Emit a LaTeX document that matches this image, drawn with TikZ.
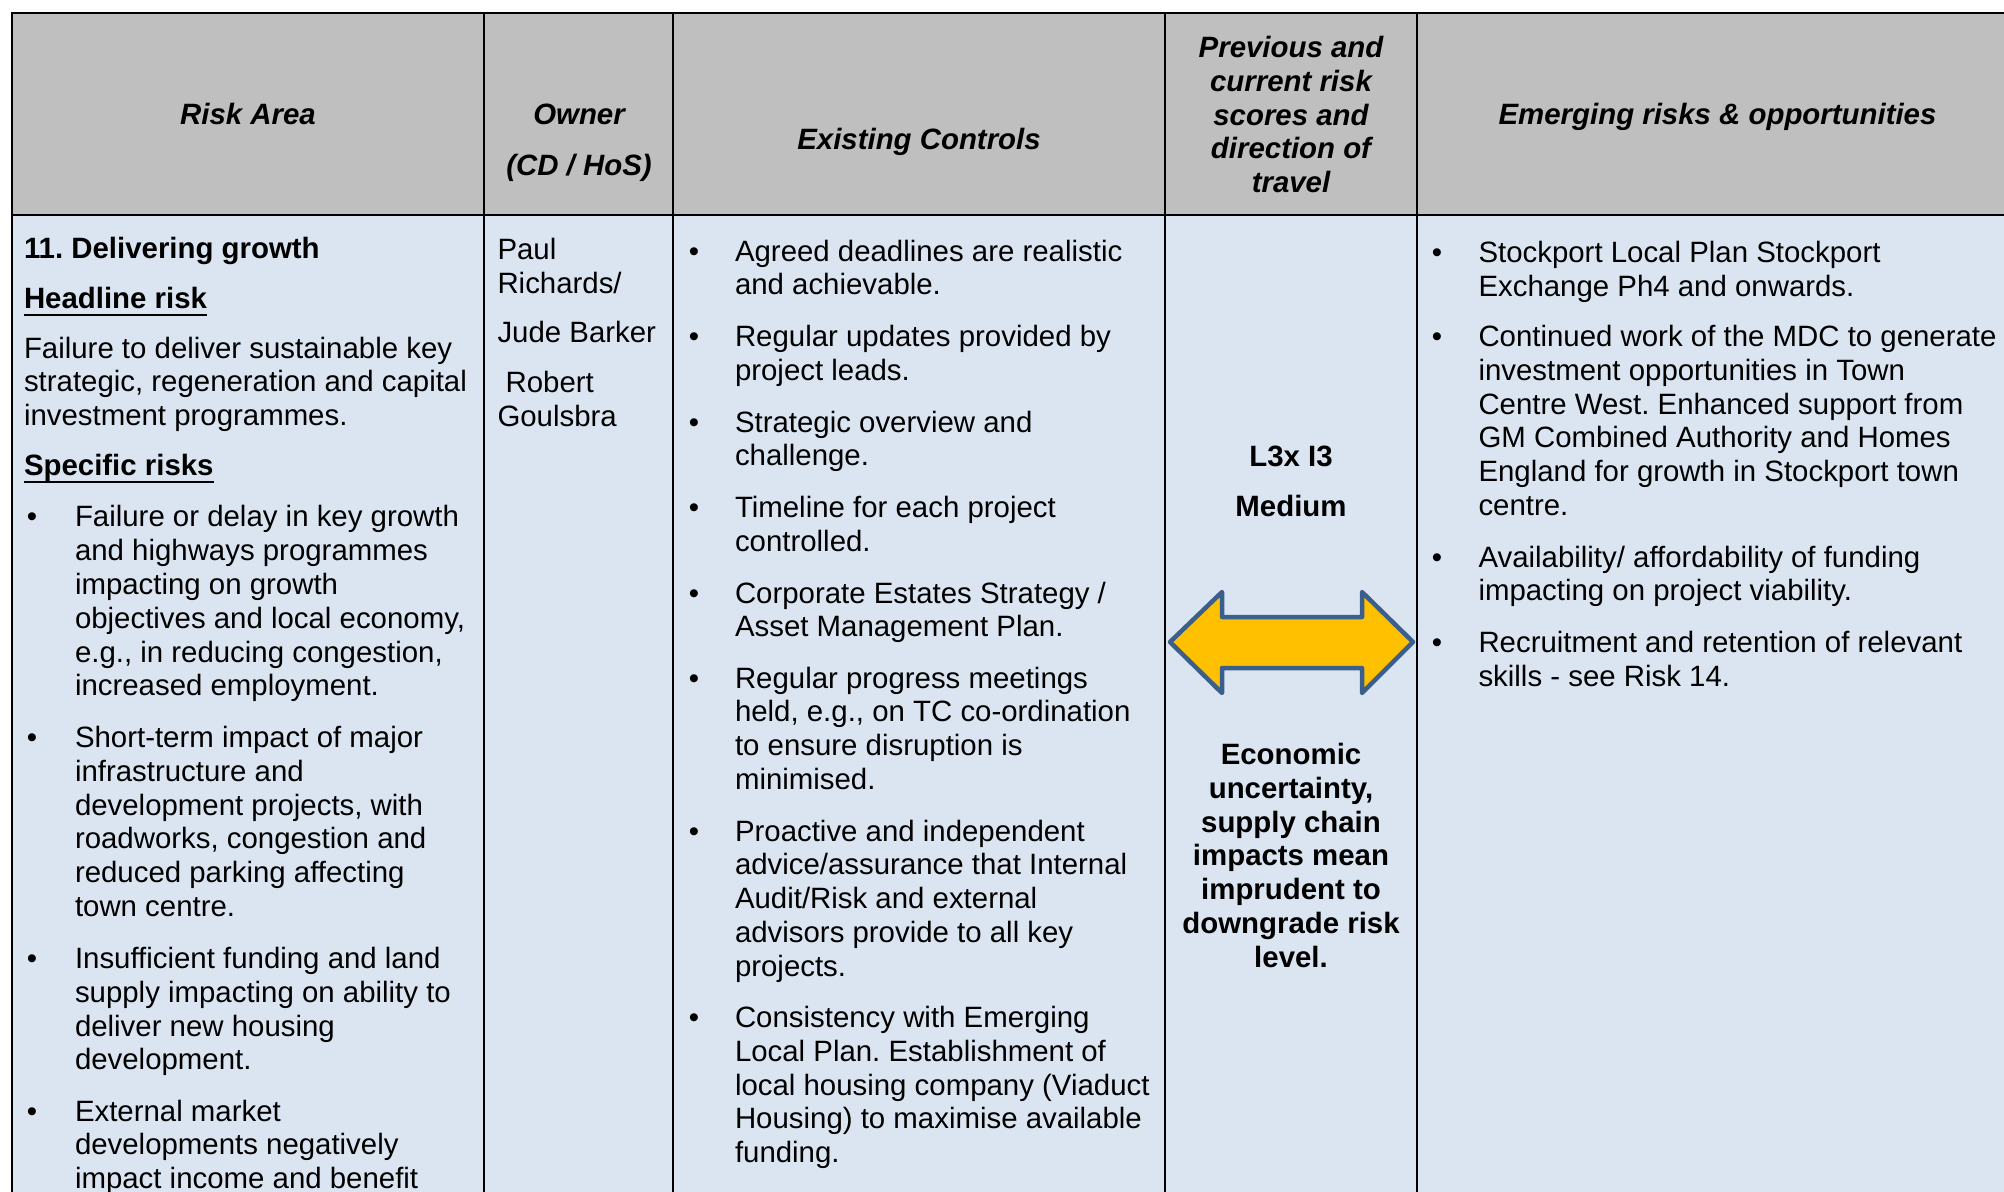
\documentclass[tikz,border=0pt]{standalone}
\usepackage{fontspec}
\setmainfont{Liberation Sans}
\frenchspacing
\newcommand\rkbody{\fontsize{29.4}{33.8}\selectfont}
\newcommand\rkbold{\fontsize{29.4}{33.8}\selectfont\bfseries}
\newcommand\rkhead{\fontsize{29.4}{33.6}\selectfont\bfseries\itshape}
\newcommand\rkL[1]{\begin{tabular}[t]{@{}l@{}}#1\end{tabular}}
\newcommand\rkC[1]{\begin{tabular}[t]{@{}c@{}}#1\end{tabular}}
\definecolor{hdrgray}{HTML}{BFBFBF}
\definecolor{bodyblue}{HTML}{DBE5F1}
\definecolor{arrowfill}{HTML}{FFC000}
\definecolor{arrowline}{HTML}{3A5F8C}
\tikzset{
  grid/.style={line width=2pt, black},
  txt/.style={anchor=base west, inner sep=0pt, outer sep=0pt, font=\rkbody},
  btxt/.style={txt, font=\rkbold},
  bul/.style={anchor=base, inner sep=0pt, outer sep=0pt, font=\rkbody},
  hdr/.style={anchor=base, inner sep=0pt, outer sep=0pt, font=\rkhead},
  ctr/.style={anchor=base, inner sep=0pt, outer sep=0pt, font=\rkbold},
  uline/.style={line width=2.5pt, black},
}
\begin{document}
\begin{tikzpicture}[x=1pt, y=-1pt]
\useasboundingbox (0,0) rectangle (2004,1191);
\clip (0,0) rectangle (2004,1191);
% table background
\fill[white] (0,0) rectangle (2004,1191);
\fill[hdrgray] (11.5,13) rectangle (2018,214.5);
\fill[bodyblue] (11.5,214.5) rectangle (2018,1260);
% grid
\draw[grid] (11.5,1260) -- (11.5,13) -- (2018,13) -- (2018,1260);
\draw[grid] (11.5,214.5) -- (2018,214.5);
\foreach \cx in {484,673,1165,1417} {\draw[grid] (\cx,13) -- (\cx,1260);}

\begin{scope}[yshift=-1.5pt]
% header
\node[hdr] (hRisk) at (248,122.7) {Risk Area};
\node[hdr] (hOwner) at (579,122.7) {Owner};
\node[hdr] (hCD) at (579,173.5) {(CD / HoS)};
\node[hdr] (hCtrl) at (919,148.3) {Existing Controls};
\node[hdr] (hPrev) at (1291,56.3) {\rkC{Previous and\\current risk\\scores and\\direction of\\travel}};
\node[hdr] (hEmer) at (1717.5,122.7) {Emerging risks \& opportunities};

% column 1
\node[btxt] (c1title) at (24,257) {11. Delivering growth};
\node[btxt] (c1head) at (24,307) {Headline risk};
\draw[uline] ([yshift=-6.5]c1head.base west) -- ([yshift=-6.5]c1head.base east);
\node[txt] (c1para) at (24,356.5) {\rkL{Failure to deliver sustainable key\\strategic, regeneration and capital\\investment programmes.}};
\node[btxt] (c1spec) at (24,474.2) {Specific risks};
\draw[uline] ([yshift=-6.5]c1spec.base west) -- ([yshift=-6.5]c1spec.base east);

\node[bul] (c1b1) at (32,525.3) {•};
\node[txt] (c1i1) at (75,525.3) {\rkL{Failure or delay in key growth\\and highways programmes\\impacting on growth\\objectives and local economy,\\e.g., in reducing congestion,\\increased employment.}};
\node[bul] (c1b2) at (32,746) {•};
\node[txt] (c1i2) at (75,746) {\rkL{Short-term impact of major\\infrastructure and\\development projects, with\\roadworks, congestion and\\reduced parking affecting\\town centre.}};
\node[bul] (c1b3) at (32,967) {•};
\node[txt] (c1i3) at (75,967) {\rkL{Insufficient funding and land\\supply impacting on ability to\\deliver new housing\\development.}};
\node[bul] (c1b4) at (32,1119.5) {•};
\node[txt] (c1i4) at (75,1119.5) {\rkL{External market\\developments negatively\\impact income and benefit}};

% column 2
\node[txt] (c2a) at (497.5,258) {\rkL{Paul\\Richards/}};
\node[txt] (c2b) at (497.5,341) {Jude Barker};
\node[txt] (c2c) at (497.5,391) {\rkL{\ Robert\\Goulsbra}};

% column 3
\node[bul] (c3b1) at (694,259.5) {•};
\node[txt] (c3i1) at (735,259.5) {\rkL{Agreed deadlines are realistic\\and achievable.}};
\node[bul] (c3b2) at (694,345) {•};
\node[txt] (c3i2) at (735,345) {\rkL{Regular updates provided by\\project leads.}};
\node[bul] (c3b3) at (694,430.5) {•};
\node[txt] (c3i3) at (735,430.5) {\rkL{Strategic overview and\\challenge.}};
\node[bul] (c3b4) at (694,516) {•};
\node[txt] (c3i4) at (735,516) {\rkL{Timeline for each project\\controlled.}};
\node[bul] (c3b5) at (694,601.5) {•};
\node[txt] (c3i5) at (735,601.5) {\rkL{Corporate Estates Strategy /\\Asset Management Plan.}};
\node[bul] (c3b6) at (694,686.5) {•};
\node[txt] (c3i6) at (735,686.5) {\rkL{Regular progress meetings\\held, e.g., on TC co-ordination\\to ensure disruption is\\minimised.}};
\node[bul] (c3b7) at (694,839.5) {•};
\node[txt] (c3i7) at (735,839.5) {\rkL{Proactive and independent\\advice/assurance that Internal\\Audit/Risk and external\\advisors provide to all key\\projects.}};
\node[bul] (c3b8) at (694,1026) {•};
\node[txt] (c3i8) at (735,1026) {\rkL{Consistency with Emerging\\Local Plan. Establishment of\\local housing company (Viaduct\\Housing) to maximise available\\funding.}};

% column 4
\node[ctr] (c4score) at (1291,465) {L3x I3};
\node[ctr] (c4level) at (1291,515) {Medium};
\node[ctr] (c4note) at (1291,763) {\rkC{Economic\\uncertainty,\\supply chain\\impacts mean\\imprudent to\\downgrade risk\\level.}};

% column 5
\node[bul] (c5b1) at (1437,260.7) {•};
\node[txt] (c5i1) at (1478.5,260.7) {\rkL{Stockport Local Plan Stockport\\Exchange Ph4 and onwards.}};
\node[bul] (c5b2) at (1437,345) {•};
\node[txt] (c5i2) at (1478.5,345) {\rkL{Continued work of the MDC to generate\\investment opportunities in Town\\Centre West. Enhanced support from\\GM Combined Authority and Homes\\England for growth in Stockport town\\centre.}};
\node[bul] (c5b3) at (1437,565.5) {•};
\node[txt] (c5i3) at (1478.5,565.5) {\rkL{Availability/ affordability of funding\\impacting on project viability.}};
\node[bul] (c5b4) at (1437,650.8) {•};
\node[txt] (c5i4) at (1478.5,650.8) {\rkL{Recruitment and retention of relevant\\skills - see Risk 14.}};
\end{scope}

% direction-of-travel arrow
\draw[fill=arrowfill, draw=arrowline, line width=4.5pt, line join=round]
  (1170,642) -- (1222,592) -- (1222,617) -- (1362,617) -- (1362,592) -- (1413,642)
  -- (1362,693) -- (1362,668) -- (1222,668) -- (1222,693) -- cycle;
\end{tikzpicture}
\end{document}
